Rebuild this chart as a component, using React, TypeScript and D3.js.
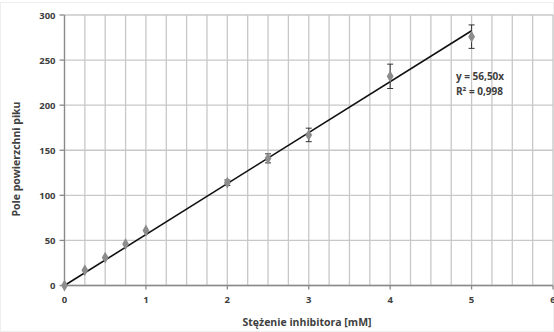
import React from "react";
import * as d3 from "d3";

const concentrations = [0, 0.25, 0.5, 0.75, 1, 2, 2.5, 3, 4, 5];
const peakAreas = [0, 17, 31, 46, 61, 114, 141, 167, 232, 276];
const errors = [0, 0, 0, 0, 0, 3, 5, 7.5, 13.5, 13];
const slope = 56.5;
const xTicks = [0, 1, 2, 3, 4, 5, 6];
const yTicks = [0, 50, 100, 150, 200, 250, 300];
const xGrid = d3.range(0, 6.001, 0.25);

const W = 554;
const H = 332;
const left = 64.5;
const right = 553;
const top = 15;
const bottom = 285.5;

const font = "'Open Sans', 'DejaVu Sans', sans-serif";
const textColor = "#404040";

export default function App() {
  const x = d3.scaleLinear().domain([0, 6]).range([left, right]);
  const y = d3.scaleLinear().domain([0, 300]).range([bottom, top]);
  const line = d3
    .line<number>()
    .x(d => x(d))
    .y(d => y(slope * d));

  return (
    <svg
      width={W}
      height={H}
      style={{ position: "absolute", left: 0, top: 0, background: "#fff" }}
    >
      <rect x={0.5} y={2.5} width={W - 1} height={H - 3} fill="none" stroke="#eeeeee" />
      {/* grid */}
      {xGrid.map((v, i) => (
        <line key={"gx" + i} x1={x(v)} x2={x(v)} y1={top} y2={bottom} stroke="#c8c8c8" strokeWidth={1.3} />
      ))}
      {yTicks.map(v => (
        <line key={"gy" + v} x1={left} x2={right} y1={y(v)} y2={y(v)} stroke="#c8c8c8" strokeWidth={1.3} />
      ))}
      {/* axes */}
      <line x1={left} x2={left} y1={top} y2={bottom} stroke="#8a8a8a" strokeWidth={1.3} />
      <line x1={left} x2={right} y1={bottom} y2={bottom} stroke="#8a8a8a" strokeWidth={1.3} />
      {yTicks.map(v => (
        <line key={"ty" + v} x1={left - 5} x2={left} y1={y(v)} y2={y(v)} stroke="#8a8a8a" strokeWidth={1.3} />
      ))}
      {xTicks.map(v => (
        <line key={"tx" + v} x1={x(v)} x2={x(v)} y1={bottom} y2={bottom + 4} stroke="#8a8a8a" strokeWidth={1.3} />
      ))}
      {yTicks.map(v => (
        <text key={"ly" + v} x={left - 9} y={y(v) + 3.5} textAnchor="end" fontFamily={font} fontSize={9.5} fontWeight="bold" fill={textColor}>
          {v}
        </text>
      ))}
      {xTicks.map(v => (
        <text key={"lx" + v} x={x(v)} y={bottom + 17} textAnchor="middle" fontFamily={font} fontSize={9.5} fontWeight="bold" fill={textColor}>
          {v}
        </text>
      ))}
      {/* trend line */}
      <path d={line([0, 5]) || ""} fill="none" stroke="#111" strokeWidth={1.6} />
      {/* error bars */}
      {concentrations.map((c, i) =>
        errors[i] > 0 ? (
          <g key={"e" + i} stroke="#333" strokeWidth={1}>
            <line x1={x(c)} x2={x(c)} y1={y(peakAreas[i] + errors[i])} y2={y(peakAreas[i] - errors[i])} />
            <line x1={x(c) - 3} x2={x(c) + 3} y1={y(peakAreas[i] + errors[i])} y2={y(peakAreas[i] + errors[i])} />
            <line x1={x(c) - 3} x2={x(c) + 3} y1={y(peakAreas[i] - errors[i])} y2={y(peakAreas[i] - errors[i])} />
          </g>
        ) : null
      )}
      {/* points */}
      {concentrations.map((c, i) => (
        <path
          key={"p" + i}
          d={d3.symbol(d3.symbolDiamond, 40)() || ""}
          transform={`translate(${x(c)},${y(peakAreas[i])})`}
          fill="#8c8c8c"
        />
      ))}
      {/* equation */}
      <text x={456} y={80} fontFamily={font} fontSize={10} fontWeight="bold" fill={textColor}>
        y = 56,50x
      </text>
      <text x={456} y={95} fontFamily={font} fontSize={10} fontWeight="bold" fill={textColor}>
        R² = 0,998
      </text>
      {/* axis titles */}
      <text x={307} y={326} textAnchor="middle" fontFamily={font} fontSize={10.5} fontWeight="bold" fill={textColor}>
        Stężenie inhibitora [mM]
      </text>
      <text
        transform="translate(20,159) rotate(-90)"
        textAnchor="middle"
        fontFamily={font}
        fontSize={10.5}
        fontWeight="bold"
        fill={textColor}
      >
        Pole powierzchni piku
      </text>
    </svg>
  );
}
